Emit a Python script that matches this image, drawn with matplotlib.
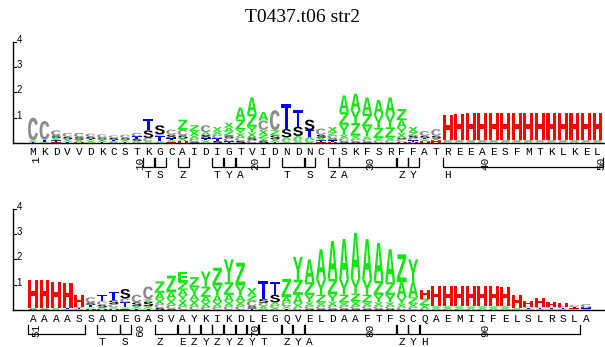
import numpy as np
import matplotlib.pyplot as plt
from matplotlib.textpath import TextPath
from matplotlib.patches import PathPatch
from matplotlib.font_manager import FontProperties
from matplotlib.transforms import Affine2D

title = "T0437.t06 str2"

top_seq = "MKDVVDKCSTKGCAIDIGTVIDNDNCTSKFSRFFATREEAESFMTKLKEL"
bot_seq = "AAAASSADEGASVAYKIKDLEGQVELDAAFTFSCQAEMIIFELSLRSLA"
top_start = 1
bot_start = 51

# secondary structure segments: (first residue, last residue, label)
top_ss = [(11, 11, 'T'), (12, 12, 'S'), (14, 14, 'Z'), (17, 17, 'T'), (18, 18, 'Y'),
          (19, 21, 'A'), (23, 24, 'T'), (25, 25, 'S'), (27, 27, 'Z'), (28, 32, 'A'),
          (33, 33, 'Z'), (34, 34, 'Y'), (37, 50, 'H')]
bot_ss = [(51, 55, ''), (57, 58, 'T'), (59, 59, 'S'), (62, 63, 'Z'), (64, 64, 'E'),
          (65, 65, 'Z'), (66, 66, 'Y'), (67, 67, 'Z'), (68, 68, 'Y'), (69, 69, 'Z'),
          (70, 70, 'Y'), (71, 72, 'T'), (73, 73, 'Z'), (74, 74, 'Y'), (75, 82, 'A'),
          (83, 83, 'Z'), (84, 84, 'Y'), (85, 98, 'H')]

# logo stacks, bottom -> top, "letter height(bits)"
top_logo = [
    "T.03 X.07 C.9", "X.05 T.07 C.75", "H.04 T.06 X.1 S.1 C.2", "T.05 X.1 S.1 C.15",
    "H.03 X.1 S.1 C.17", "X.1 T.05 S.1 C.12", "T.04 X.1 S.08 C.12", "X.08 T.04 S.08 C.1",
    "T.05 X.08 S.08 C.12", "X.08 S.08 T.1 C.14", "X.08 C.12 S.3 T.46", "X.06 T.22 C.06 S.36",
    "H.04 X.08 T.06 S.15 C.2", "H.08 X.1 S.12 C.22 Z.4", "S.06 C.1 A.12 X.2 Z.22",
    "X.1 T.08 S.14 A.1 C.28", "S.08 T.1 C.15 A.1 X.2", "T.06 C.14 S.1 Z.15 A.15 X.2",
    "S.08 C.15 X.15 Y.15 Z.4 A.47", "C.12 S.1 X.2 Y.22 Z.5 A.66", "S.1 Y.1 Z.12 X.2 C.37 A.33",
    "T.05 X.1 S.15 Z.2 C.8", "X.06 C.06 A.1 S.33 T1.0", "X.08 C.08 A.12 S.36 T.66",
    "X.06 C.06 A.12 T.26 S.42", "H.04 T.06 X.1 S.12 C.25", "H.05 T.05 S.08 C.12 Z.13 X.2",
    "S.06 C.12 X.14 Y.4 Z.5 A.66", "S.05 C.1 X.14 Z.5 Y.5 A.66", "S.05 C.1 X.1 Y.4 Z.5 A.65",
    "C.1 X.1 Z.4 Y.5 A.6", "C.1 X.12 Z.4 Y.5 A.68", "H.05 C.1 S.05 X.2 Y.2 A.3 Z.44",
    "H.05 T.05 C.1 S.08 Z.15 X.2", "H.06 X.08 T.05 S.1 C.18", "H.1 X.08 S.1 C.27",
    "C.03 X.04 S.03 H1.0", "C.03 X.04 S.03 H1.05", "C.03 X.04 S.03 H1.1", "C.03 X.04 S.03 H1.1",
    "C.03 X.04 S.03 H1.1", "C.03 X.04 S.03 H1.1", "C.03 X.04 S.03 H1.1", "C.03 X.04 S.03 H1.1",
    "C.03 X.04 S.03 H1.1", "C.03 X.04 S.03 H1.1", "C.03 X.04 S.03 H1.1", "C.03 X.04 S.03 H1.1",
    "C.03 X.04 S.03 H1.1", "C.03 X.04 S.03 H1.1",
]
bot_logo = [
    "S.03 X.05 H1.12", "S.03 X.05 H1.12", "C.03 X.05 H1.02", "C.03 T.04 H1.0",
    "C.03 T.05 X.05 H.47", "H.05 X.05 T.1 S.1 C.2", "H.05 X.05 S.1 C.15 T.25",
    "H.05 X.06 C.12 S.15 T.35", "H.04 X.06 T.2 C.15 S.38", "T.05 X.1 S.15 C.3",
    "T.05 X.1 S.18 Z.1 C.5", "S.08 C.15 X.2 A.25 Z.45", "S.05 C.15 X.25 A.25 Z.66",
    "C.15 X.25 Y.2 A.2 Z.3 E.4", "C.15 X.25 A.2 Y.3 Z.4", "C.12 X.2 A.2 Z.4 Y.6",
    "C.12 X.2 A.25 Y.4 Z.7", "C.15 X.2 A.25 Z.5 Y.9", "C.15 X.2 A.22 Y.4 Z.9",
    "T.05 S.1 C.22 Z.2 X.3", "A.08 X.1 C.1 S.15 T.7", "X.1 C.1 A.1 S.3 T.5",
    "T.05 X.1 C.15 A.2 Z.73", "C.1 X.15 A.35 Z.6 Y.9", "S.05 C.1 X.15 Y.3 Z.5 A.9",
    "S.05 C.1 X.15 Z.3 Y.6 A1.2", "S.05 C.1 X.18 Y.3 Z.6 A1.5", "S.05 C.1 X.15 Z.3 Y.6 A1.6",
    "S.05 C.1 X.2 Z.3 Y.6 A1.8", "S.05 C.1 X.15 Z.3 Y.6 A1.6", "S.05 C.1 X.15 Y.3 Z.55 A1.5",
    "S.05 C.1 X.15 Y.3 Z.5 A1.3", "C.1 X.15 Y.25 A.6 Z1.1", "C.1 X.15 Z.25 A.6 Y.9",
    "C.05 X.15 Z.25 H.35", "C.03 X.08 Z.05 H.8", "C.03 X.08 Z.05 H.78", "C.03 X.08 Z.05 H.78",
    "C.03 X.08 Z.05 H.78", "C.03 X.08 Z.05 H.78", "C.03 X.08 Z.05 H.78", "C.03 X.08 Z.05 H.75",
    "C.03 X.05 H.5", "X.03 T.05 C.05 H.22", "X.03 T.05 C.05 H.35", "X.03 T.05 C.05 H.17",
    "X.03 T.05 C.05 H.14", "X.03 H.05 T.04 C.08", "X.03 T.03 H.04 C.14",
]

colors = {'H': '#ff0000', 'T': '#0000ff', 'S': '#000000', 'C': '#8c8c8c'}
green = '#12e612'

W, H = 605, 347
fig = plt.figure(figsize=(W / 100, H / 100), dpi=100)
fig.text(0.5, 1 - 18 / H, title, ha='center', va='center', fontsize=14,
         family='Liberation Serif')

logo_font = FontProperties(family='Liberation Mono', weight='bold')
lab_font = FontProperties(family='Liberation Mono', size=8)
x0_px, step_px, unit_px = 33, 11.52, 25.3
xl = (13 - x0_px) / step_px
xr = (W - x0_px) / step_px
glyphs = {}


def letter(ax, ch, x, y, w, h, col):
    if ch not in glyphs:
        glyphs[ch] = TextPath((0, 0), ch, size=1, prop=logo_font)
    tp = glyphs[ch]
    bb = tp.get_extents()
    tr = Affine2D().translate(-bb.x0, -bb.y0).scale(w / bb.width, h / bb.height).translate(x - w / 2, y)
    ax.add_patch(PathPatch(tr.transform_path(tp), fc=col, ec='none', lw=0))


def panel(base_px, seq, start, logo, ss):
    ax = fig.add_axes([13 / W, (H - base_px) / H, (W - 13) / W, 4 * unit_px / H])
    ax.set_xlim(xl, xr)
    ax.set_ylim(0, 4)
    for s in ['top', 'right']:
        ax.spines[s].set_visible(False)
    ax.spines['left'].set_bounds(0, 4)
    ax.spines['left'].set_linewidth(1.0)
    ax.spines['bottom'].set_linewidth(1.0)
    ax.set_xticks([])
    ax.set_yticks([])
    for v in range(1, 5):
        ax.plot([xl, xl + 0.22], [v, v], color='black', lw=0.8, clip_on=False)
        ax.text(xl + 0.3, v - 0.04, str(v), fontsize=7, family='Liberation Sans',
                va='baseline', ha='left')

    # logo letters
    for i, col in enumerate(logo):
        y = 0.0
        for item in col.split():
            ch, h = item[0], float(item[1:])
            letter(ax, ch, i, y, 0.86, h, colors.get(ch, green))
            y += h

    # residue row and numbering
    d = 1 / unit_px
    for i, ch in enumerate(seq):
        ax.text(i, -9.2 * d, ch, fontproperties=lab_font, ha='center', va='center', clip_on=False)
        n = start + i
        if n % 10 == 0 or n == start:
            ax.text(i + 0.3, -13.5 * d, str(n), fontproperties=lab_font, rotation=90,
                    ha='center', va='top', clip_on=False)

    # secondary structure brackets
    for a, b, lab in ss:
        xa = a - start - 0.42
        xb = b - start + 0.52
        ax.plot([xa, xa, xb, xb], [-15 * d, -24 * d, -24 * d, -15 * d], color='black',
                lw=0.9, clip_on=False)
        if lab:
            ax.text(a - start, -32 * d, lab, fontproperties=lab_font, ha='center',
                    va='center', clip_on=False)
    return ax


panel(143, top_seq, top_start, top_logo, top_ss)
panel(310, bot_seq, bot_start, bot_logo, bot_ss)

fig.savefig('out.png', dpi=100)
